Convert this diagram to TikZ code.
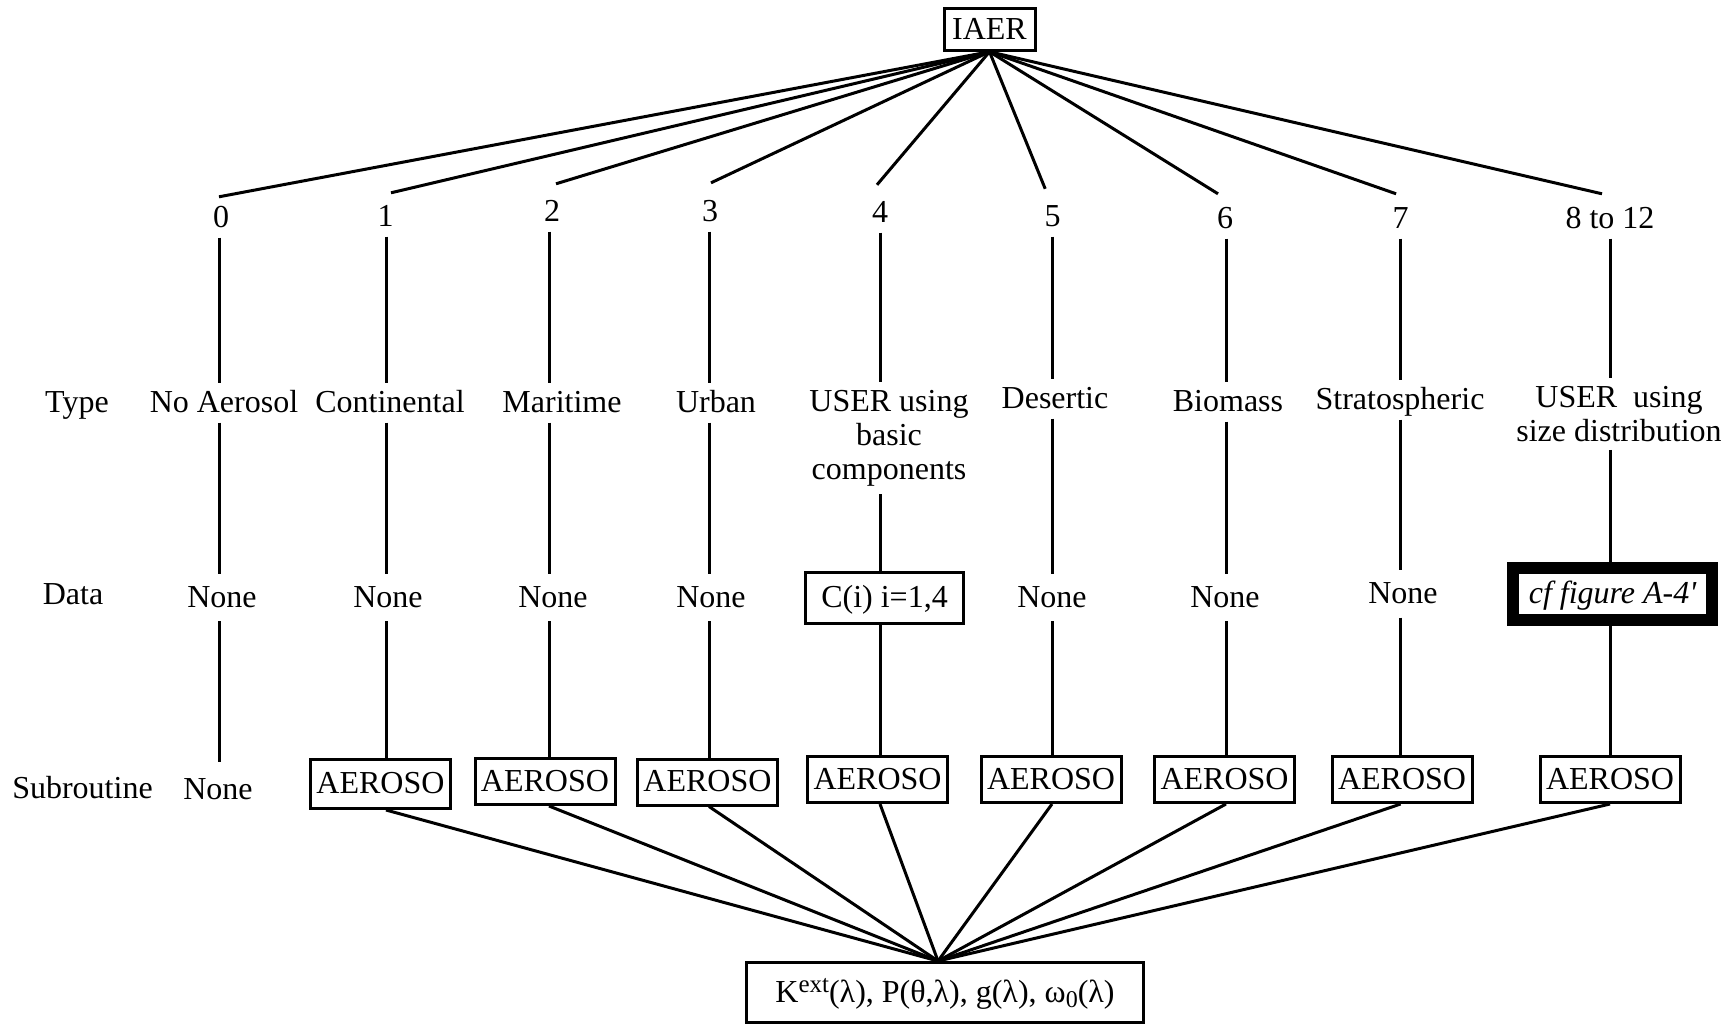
\documentclass[tikz,border=0pt]{standalone}
\usepackage{fontspec}
\setmainfont{Liberation Serif}
\begin{document}
\begin{tikzpicture}[x=1pt,y=-1pt,
  every node/.style={font=\fontsize{32}{34}\selectfont},
  lbl/.style={inner xsep=2pt, inner ysep=8pt, text height=21pt, text depth=2pt},
  dlbl/.style={lbl, inner ysep=12pt},
  mlbl/.style={inner xsep=2pt, inner ysep=8pt, align=center},
  box/.style={draw, line width=3pt, inner sep=0pt, text height=21pt, text depth=2pt},
  subbox/.style={box, minimum width=140pt, minimum height=46pt},
  conn/.style={line width=3pt}]
\useasboundingbox (0,0) rectangle (1732,1026);

% column axes
\coordinate (c0) at (219,0);
\coordinate (c1) at (386,0);
\coordinate (c2) at (549,0);
\coordinate (c3) at (709,0);
\coordinate (c4) at (880,0);
\coordinate (c5) at (1052,0);
\coordinate (c6) at (1226,0);
\coordinate (c7) at (1400.6,0);
\coordinate (c8) at (1610,0);

% root
\node[box, minimum width=91pt, minimum height=41.5pt] (iaer) at (989.5,29.5) {IAER};

% numbers
\node[lbl] (n0) at (221,218) {0};
\node[lbl] (n1) at (385.5,217) {1};
\node[lbl] (n2) at (552,212) {2};
\node[lbl] (n3) at (710,212) {3};
\node[lbl] (n4) at (880,213) {4};
\node[lbl] (n5) at (1052.7,217) {5};
\node[lbl] (n6) at (1225,219) {6};
\node[lbl] (n7) at (1400.6,219) {7};
\node[lbl] (n8) at (1610,219) {8 to 12};

% row headings
\node[lbl] (hType) at (77,403) {Type};
\node[lbl] (hData) at (73,595) {Data};
\node[lbl] (hSub) at (82.5,789) {Subroutine};

% types
\node[lbl] (t0) at (224,403) {No Aerosol};
\node[lbl] (t1) at (390,403) {Continental};
\node[lbl] (t2) at (562,403) {Maritime};
\node[lbl] (t3) at (716,403) {Urban};
\node[mlbl] (t4) at (889,438) {USER using\\basic\\components};
\node[lbl] (t5) at (1055,399) {Desertic};
\node[lbl] (t6) at (1228,402) {Biomass};
\node[lbl] (t7) at (1400,400) {Stratospheric};
\node[mlbl] (t8) at (1619,414) {USER\ \ using\\size distribution};

% data
\node[dlbl] (d0) at (222,597.6) {None};
\node[dlbl] (d1) at (388,597.6) {None};
\node[dlbl] (d2) at (553,597.6) {None};
\node[dlbl] (d3) at (711,597.6) {None};
\node[box, minimum width=158pt, minimum height=51pt] (d4) at (884.5,598) {C(i) i=1,4};
\node[dlbl] (d5) at (1052,597.6) {None};
\node[dlbl] (d6) at (1225,597.6) {None};
\node[dlbl] (d7) at (1403,594) {None};
\node[box, line width=12pt, minimum width=199pt, minimum height=52pt] (d8) at (1612.5,594)
  {\itshape cf figure A-4\textquotesingle};

% subroutines
\node[lbl, inner ysep=16pt] (s0) at (218,790) {None};
\node[subbox, minimum height=49pt] (s1) at (380.5,784) {AEROSO};
\node[subbox] (s2) at (545,781.5) {AEROSO};
\node[subbox] (s3) at (707.5,782) {AEROSO};
\node[subbox] (s4) at (877.5,779.5) {AEROSO};
\node[subbox] (s5) at (1051,779.5) {AEROSO};
\node[subbox] (s6) at (1224.5,779.5) {AEROSO};
\node[subbox] (s7) at (1402,779.5) {AEROSO};
\node[subbox] (s8) at (1610,779.5) {AEROSO};

% result
\node[box, minimum width=397pt, minimum height=60pt] (res) at (945,992.5)
  {K\raisebox{10pt}{\fontsize{25}{25}\selectfont ext}(λ), P(θ,λ), g(λ), ω\raisebox{-5pt}{\fontsize{24}{24}\selectfont 0}(λ)};
\coordinate (apexB) at ([xshift=-7pt]res.north);

% root to numbers
\draw[conn] (iaer.south) -- ([xshift=-2pt,yshift=1.5pt]n0.north);
\draw[conn] (iaer.south) -- ([xshift=5.5pt,yshift=4.5pt]n1.north);
\draw[conn] (iaer.south) -- ([xshift=4pt,yshift=8.5pt]n2.north);
\draw[conn] (iaer.south) -- ([xshift=1pt,yshift=9.5pt]n3.north);
\draw[conn] (iaer.south) -- ([xshift=-3pt,yshift=8.5pt]n4.north);
\draw[conn] (iaer.south) -- ([xshift=-7.5pt,yshift=8.5pt]n5.north);
\draw[conn] (iaer.south) -- ([xshift=-7pt,yshift=5.5pt]n6.north);
\draw[conn] (iaer.south) -- ([xshift=-4.5pt,yshift=5.5pt]n7.north);
\draw[conn] (iaer.south) -- ([xshift=-8pt,yshift=5.5pt]n8.north);

% verticals
\foreach \i in {0,...,8}{
  \draw[conn] (n\i.south -| c\i) -- (t\i.north -| c\i);
  \draw[conn] (t\i.south -| c\i) -- (d\i.north -| c\i);
  \draw[conn] (d\i.south -| c\i) -- (s\i.north -| c\i);
}

% subroutines to result
\foreach \i in {1,...,8}{
  \draw[conn] (s\i.south -| c\i) -- (apexB);
}
\end{tikzpicture}
\end{document}
